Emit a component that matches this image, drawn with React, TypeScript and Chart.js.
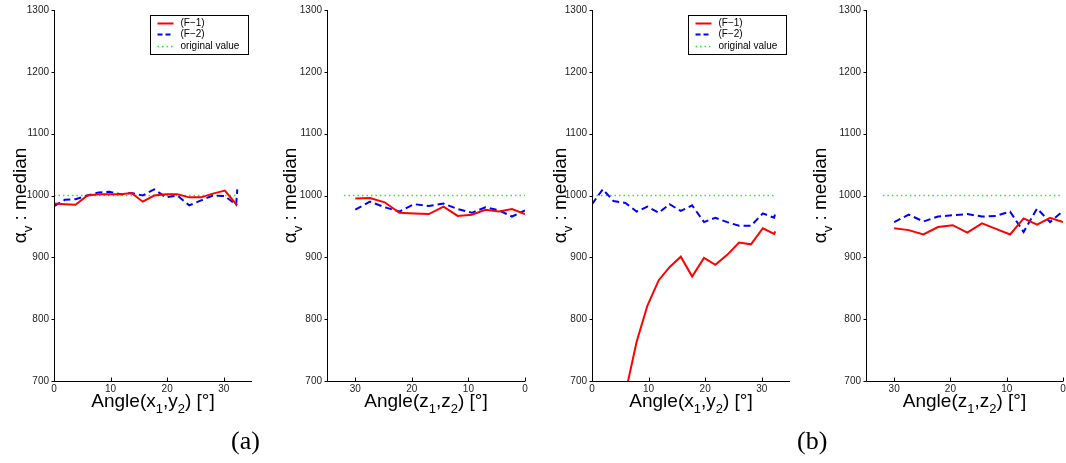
import React, { useEffect, useRef } from 'react';
import { Chart, registerables } from 'chart.js';

Chart.register(...registerables);

// ---------- data ----------
const anglesXY = [0, 1.9, 3.8, 5.9, 7.9, 9.8, 11.8, 13.7, 15.7, 17.7, 19.8, 21.8, 23.9, 26.0, 28.1, 30.2, 32.2, 32.4];
const anglesZ = [30, 27.4, 24.8, 22.2, 19.6, 17.0, 14.4, 11.9, 9.4, 7.0, 4.6, 2.3, 0];

// (a) Angle(x1,y2)
const redA1 = [987, 986, 985, 1000, 1002, 1002, 1002, 1004, 990, 1000, 1002, 1002, 997, 997, 1003, 1008, 986, 985];
const blueA1 = [983, 993, 994, 1000, 1005, 1006, 1002, 1004, 1000, 1010, 997, 1000, 984, 992, 1000, 999, 985, 1010];
// (a) Angle(z1,z2)
const redA2 = [995, 996, 989, 972, 971, 970, 982, 967, 969, 977, 974, 978, 970];
const blueA2 = [977, 990, 981, 974, 986, 983, 987, 978, 972, 981, 976, 966, 976];
// (b) Angle(x1,y2)
const redB1 = [null, null, null, 680, 764, 822, 863, 884, 901, 869, 899, 888, 904, 924, 921, 947, 938, 942];
const blueB1 = [986, 1010, 991, 988, 974, 982, 972, 986, 975, 984, 957, 964, 957, 951, 951, 971, 964, 972];
// (b) Angle(z1,z2)
const redB2 = [947, 944, 937, 949, 952, 940, 955, 946, 937, 963, 953, 964, 957];
const blueB2 = [957, 969, 958, 966, 968, 970, 966, 967, 974, 941, 979, 957, 975];

const origXY = [0, 32.3];
const origZ = [32, 0];
const origValue = [1000, 1000];

const xTickValues = [0, 10, 20, 30];
const yTickValues = [700, 800, 900, 1000, 1100, 1200, 1300];
const seriesLabels = ['(F\u22121)', '(F\u22122)', 'original value'];
const panelLabels = ['(a)', '(b)'];

// ---------- layout ----------
const H = 463;
const PLOT_TOP = 10;
const PLOT_BOTTOM = 381;
const SANS = '"Liberation Sans", Arial, Helvetica, sans-serif';

type Panel = {
  left: number; width: number; axisLeft: number; axisRight: number; yTitleX: number;
  reverse: boolean; legend: boolean; xs: number[]; red: (number | null)[]; blue: number[];
  origX: number[]; vars: [string, string];
};

const PANELS: Panel[] = [
  { left: 0, width: 270, axisLeft: 54, axisRight: 252, yTitleX: 26, reverse: false, legend: true, xs: anglesXY, red: redA1, blue: blueA1, origX: origXY, vars: ['x', 'y'] },
  { left: 270, width: 270, axisLeft: 327, axisRight: 525, yTitleX: 296, reverse: true, legend: false, xs: anglesZ, red: redA2, blue: blueA2, origX: origZ, vars: ['z', 'z'] },
  { left: 540, width: 270, axisLeft: 592, axisRight: 790, yTitleX: 566, reverse: false, legend: true, xs: anglesXY, red: redB1, blue: blueB1, origX: origXY, vars: ['x', 'y'] },
  { left: 800, width: 266, axisLeft: 866, axisRight: 1063, yTitleX: 826, reverse: true, legend: false, xs: anglesZ, red: redB2, blue: blueB2, origX: origZ, vars: ['z', 'z'] },
];

const COLORS = { red: '#ff0000', blue: '#0000ff', green: '#22ee22' };

type Seg = { t: string; sub?: boolean };

function drawSegs(ctx: CanvasRenderingContext2D, segs: Seg[], cx: number, baseY: number, size: number) {
  const subSize = Math.round(size * 0.68);
  const widths = segs.map((s) => {
    ctx.font = `${s.sub ? subSize : size}px ${SANS}`;
    return ctx.measureText(s.t).width;
  });
  const total = widths.reduce((a, b) => a + b, 0);
  let x = cx - total / 2;
  ctx.textAlign = 'left';
  ctx.textBaseline = 'alphabetic';
  segs.forEach((s, i) => {
    ctx.font = `${s.sub ? subSize : size}px ${SANS}`;
    ctx.fillText(s.t, x, baseY + (s.sub ? size * 0.3 : 0));
    x += widths[i];
  });
}

function makeDecor(p: Panel) {
  return {
    id: 'decor',
    afterDraw(chart: any) {
      const { ctx, chartArea: ca } = chart;
      const xs = chart.scales.x;
      const ys = chart.scales.y;
      ctx.save();
      // axes
      ctx.strokeStyle = '#000';
      ctx.lineWidth = 1;
      ctx.beginPath();
      const lx = Math.round(ca.left) + 0.5;
      const by = Math.round(ca.bottom) + 0.5;
      ctx.moveTo(lx, Math.round(ca.top));
      ctx.lineTo(lx, by);
      ctx.lineTo(Math.round(ca.right), by);
      xTickValues.forEach((v) => {
        const px = Math.round(xs.getPixelForValue(v)) + 0.5;
        ctx.moveTo(px, by);
        ctx.lineTo(px, by - 4);
      });
      yTickValues.forEach((v) => {
        const py = Math.round(ys.getPixelForValue(v)) + 0.5;
        ctx.moveTo(lx - 3, py);
        ctx.lineTo(lx, py);
      });
      ctx.stroke();

      ctx.fillStyle = '#000';
      // x title
      const xc = (ca.left + ca.right) / 2;
      drawSegs(ctx, [
        { t: `Angle(${p.vars[0]}` }, { t: '1', sub: true }, { t: `,${p.vars[1]}` }, { t: '2', sub: true }, { t: ') [\u00b0]' },
      ], xc, 407, 19);

      // y title (rotated)
      ctx.save();
      ctx.translate(p.yTitleX - p.left, (ca.top + ca.bottom) / 2);
      ctx.rotate(-Math.PI / 2);
      drawSegs(ctx, [{ t: '\u03b1' }, { t: 'v', sub: true }, { t: ' : median' }], 0, 0, 19);
      ctx.restore();

      // legend
      if (p.legend) {
        const bx = Math.round(ca.right) - 102 + 0.5;
        const byTop = Math.round(ca.top) + 5 + 0.5;
        const bw = 98;
        const bh = 39;
        ctx.fillStyle = '#fff';
        ctx.fillRect(bx, byTop, bw, bh);
        ctx.strokeStyle = '#000';
        ctx.lineWidth = 1;
        ctx.strokeRect(bx, byTop, bw, bh);
        const rows = [12.5, 23.8, 36];
        const styles = [
          { c: COLORS.red, w: 2, d: [] as number[] },
          { c: COLORS.blue, w: 2, d: [5, 3] },
          { c: COLORS.green, w: 1.5, d: [1.5, 3] },
        ];
        rows.forEach((ry, i) => {
          const y = Math.round(ca.top + ry) + 0.5;
          ctx.beginPath();
          ctx.setLineDash(styles[i].d);
          ctx.strokeStyle = styles[i].c;
          ctx.lineWidth = styles[i].w;
          ctx.moveTo(bx + 7, y);
          ctx.lineTo(bx + 23, y);
          ctx.stroke();
          ctx.setLineDash([]);
          ctx.fillStyle = '#000';
          ctx.font = `10px ${SANS}`;
          ctx.textAlign = 'left';
          ctx.textBaseline = 'middle';
          ctx.fillText(seriesLabels[i], bx + 30, y);
        });
      }
      ctx.restore();
    },
  };
}

const toXY = (xs: number[], ys: (number | null)[]) => xs.map((x, i) => ({ x, y: ys[i] }));

function PanelChart({ p }: { p: Panel }) {
  const ref = useRef<HTMLCanvasElement>(null);
  useEffect(() => {
    if (!ref.current) return;
    const tickFont = { family: SANS, size: 10 };
    const chart = new Chart(ref.current, {
      type: 'line',
      data: {
        datasets: [
          { label: seriesLabels[0], data: toXY(p.xs, p.red) as any, borderColor: COLORS.red, borderWidth: 2, pointRadius: 0, tension: 0, fill: false },
          { label: seriesLabels[1], data: toXY(p.xs, p.blue) as any, borderColor: COLORS.blue, borderWidth: 2, borderDash: [7, 4], pointRadius: 0, tension: 0, fill: false },
          { label: seriesLabels[2], data: toXY(p.origX, origValue) as any, borderColor: COLORS.green, borderWidth: 1.5, borderDash: [1.5, 3], pointRadius: 0, fill: false },
        ],
      },
      options: {
        animation: false,
        responsive: false,
        maintainAspectRatio: false,
        layout: { padding: { left: 0, top: PLOT_TOP, right: p.left + p.width - p.axisRight, bottom: 0 } },
        plugins: { legend: { display: false }, tooltip: { enabled: false } },
        scales: {
          x: {
            type: 'linear',
            min: 0,
            max: 35,
            reverse: p.reverse,
            afterBuildTicks: (s: any) => { s.ticks = xTickValues.map((v) => ({ value: v })); },
            afterFit: (s: any) => { s.height = H - PLOT_BOTTOM; s.paddingLeft = 0; s.paddingRight = 0; },
            grid: { display: false, drawTicks: false },
            border: { display: false },
            ticks: { font: tickFont, color: '#222', padding: 2, maxRotation: 0, autoSkip: false, callback: (v: any) => String(v) },
          },
          y: {
            type: 'linear',
            min: 700,
            max: 1300,
            afterBuildTicks: (s: any) => { s.ticks = yTickValues.map((v) => ({ value: v })); },
            afterFit: (s: any) => { s.width = p.axisLeft - p.left; s.paddingTop = 0; s.paddingBottom = 0; },
            grid: { display: false, drawTicks: false },
            border: { display: false },
            ticks: { font: tickFont, color: '#222', padding: 5, autoSkip: false, callback: (v: any) => String(v) },
          },
        },
      },
      plugins: [makeDecor(p)],
    });
    return () => chart.destroy();
  }, [p]);
  return (
    <canvas
      ref={ref}
      width={p.width}
      height={H}
      style={{ position: 'absolute', left: p.left, top: 0, width: p.width, height: H }}
    />
  );
}

export default function App() {
  return (
    <div style={{ position: 'absolute', left: 0, top: 0, width: 1066, height: H, background: '#fff', overflow: 'hidden' }}>
      {PANELS.map((p, i) => <PanelChart key={i} p={p} />)}
      <div style={{ position: 'absolute', left: 231, top: 426, font: '26px "Liberation Serif", "Times New Roman", serif', color: '#000' }}>{panelLabels[0]}</div>
      <div style={{ position: 'absolute', left: 797, top: 426, font: '26px "Liberation Serif", "Times New Roman", serif', color: '#000' }}>{panelLabels[1]}</div>
    </div>
  );
}
